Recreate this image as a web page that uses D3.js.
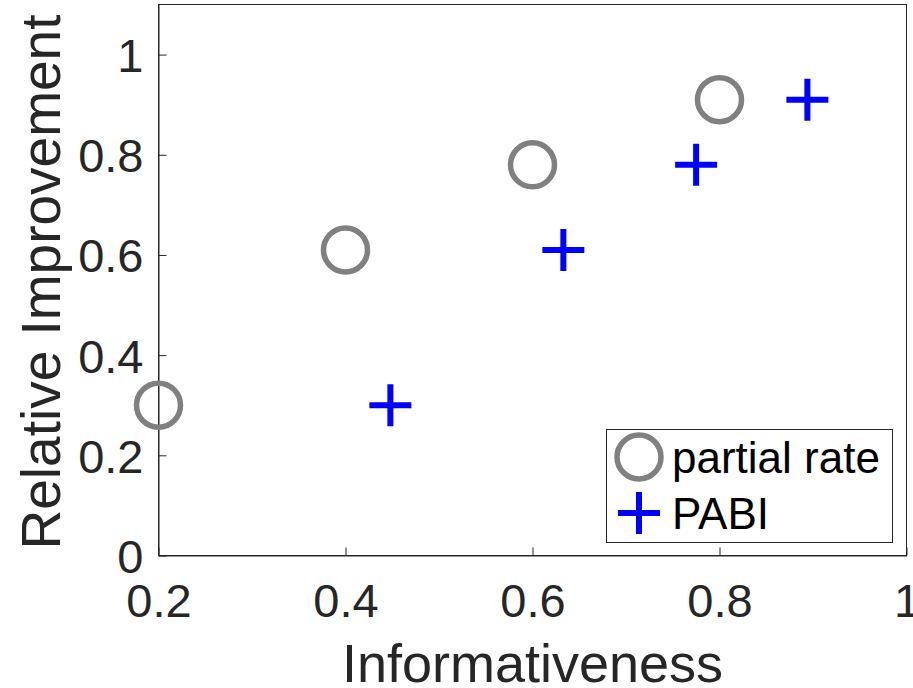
<!DOCTYPE html>
<html>
<head>
<meta charset="utf-8">
<script src="https://cdn.jsdelivr.net/npm/d3@7"></script>
<style>
  body { margin: 0; background: #fff; }
  text { font-family: "Liberation Sans", Arial, Helvetica, sans-serif; }
</style>
</head>
<body>
<svg id="chart" width="913" height="688"></svg>
<script>
// values
var relImprovement = [0.30, 0.61, 0.78, 0.91];
var partialRateX = [0.2, 0.4, 0.6, 0.8];
var pabiX = [0.448, 0.633, 0.775, 0.894];
var xTicks = [0.2, 0.4, 0.6, 0.8, 1];
var yTicks = [0, 0.2, 0.4, 0.6, 0.8, 1];
var seriesNames = ["partial rate", "PABI"];

var svg = d3.select("#chart");
var margin = {left: 158.5, right: 6.5, top: 4.5, bottom: 132.5};
var W = 913, H = 688;

var x = d3.scaleLinear().domain([0.2, 1]).range([margin.left, W - margin.right]);
var y = d3.scaleLinear().domain([0, 1.1]).range([H - margin.bottom, margin.top]);

var axisColor = "#262626";

// box
svg.append("rect")
  .attr("x", x(0.2)).attr("y", y(1.1))
  .attr("width", x(1) - x(0.2)).attr("height", y(0) - y(1.1))
  .attr("fill", "none").attr("stroke", axisColor).attr("stroke-width", 1);

// axes, ticks pointing inward
var xAxis = d3.axisBottom(x).tickValues(xTicks).tickSizeInner(-8).tickSizeOuter(0)
  .tickFormat(function(d) { return d === 1 ? "1" : d3.format(".1f")(d); });
var gx = svg.append("g").attr("transform", "translate(0," + y(0) + ")").call(xAxis);

var yAxis = d3.axisLeft(y).tickValues(yTicks).tickSizeInner(-8).tickSizeOuter(0)
  .tickFormat(function(d) { return (d === 0 || d === 1) ? String(d) : d3.format(".1f")(d); });
var gy = svg.append("g").attr("transform", "translate(" + x(0.2) + ",0)").call(yAxis);

[gx, gy].forEach(function(g) {
  g.select(".domain").attr("stroke", axisColor);
  g.selectAll(".tick line").attr("stroke", axisColor);
  g.selectAll(".tick text").attr("fill", axisColor).style("font-size", "47px");
});
gx.selectAll(".tick text").attr("dy", "0").attr("y", 61);
gy.selectAll(".tick text").attr("x", -15).attr("dy", "0.36em");

// axis labels
svg.append("text")
  .attr("x", (x(0.2) + x(1)) / 2).attr("y", 682)
  .attr("text-anchor", "middle").attr("fill", axisColor)
  .style("font-size", "54px").text("Informativeness");

svg.append("text")
  .attr("transform", "translate(60," + ((y(0) + y(1.1)) / 2 + 2) + ") rotate(-90)")
  .attr("text-anchor", "middle").attr("fill", axisColor)
  .style("font-size", "55px").text("Relative Improvement");

// markers
var circleColor = "#808080", plusColor = "#0000ff";

function plus(g, cx, cy) {
  g.append("path")
    .attr("d", "M" + (cx - 21) + "," + cy + "H" + (cx + 21) + "M" + cx + "," + (cy - 21) + "V" + (cy + 21))
    .attr("stroke", plusColor).attr("stroke-width", 6).attr("fill", "none");
}

svg.append("g").selectAll("circle")
  .data(partialRateX.map(function(d, i) { return [d, relImprovement[i]]; }))
  .enter().append("circle")
  .attr("cx", function(d) { return x(d[0]); })
  .attr("cy", function(d) { return y(d[1]); })
  .attr("r", 22)
  .attr("fill", "none").attr("stroke", circleColor).attr("stroke-width", 5.5);

var gp = svg.append("g");
pabiX.forEach(function(d, i) { plus(gp, x(d), y(relImprovement[i])); });

// legend
var lg = svg.append("g");
lg.append("rect").attr("x", 606.5).attr("y", 429.5).attr("width", 286).attr("height", 113)
  .attr("fill", "#fff").attr("stroke", axisColor).attr("stroke-width", 1);
lg.append("circle").attr("cx", 639).attr("cy", 457).attr("r", 22)
  .attr("fill", "none").attr("stroke", circleColor).attr("stroke-width", 5.5);
plus(lg, 639, 513);
lg.selectAll("text.lab").data(seriesNames).enter().append("text")
  .attr("class", "lab")
  .attr("x", 672).attr("y", function(d, i) { return 473 + i * 55.5; })
  .attr("fill", "#000")
  .style("font-size", "44px").text(function(d) { return d; });
</script>
</body>
</html>
